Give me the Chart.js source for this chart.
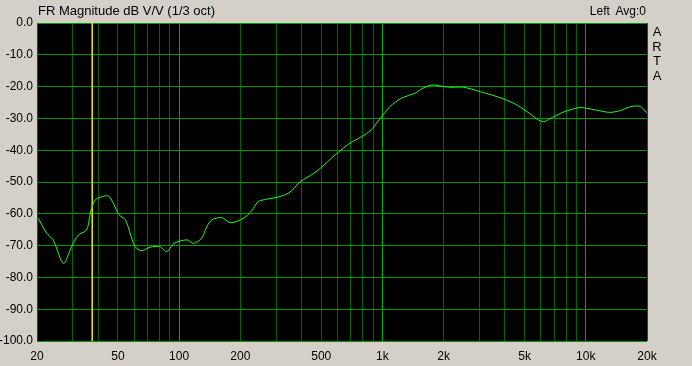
<!DOCTYPE html>
<html><head><meta charset="utf-8">
<script src="https://cdn.jsdelivr.net/npm/chart.js@4/dist/chart.umd.min.js"></script>
<style>
html,body{margin:0;padding:0;background:#D4D0C8;}
#wrap{position:relative;width:692px;height:366px;background:#D4D0C8;font-family:"Liberation Sans",Arial,sans-serif;}
canvas{position:absolute;left:0;top:0;}
.t{position:absolute;color:#000;white-space:nowrap;line-height:14px;}
#arta{position:absolute;left:651px;top:25px;width:12px;font-size:13px;line-height:14.5px;text-align:center;}
</style></head>
<body>
<div id="wrap">
<canvas id="c" width="692" height="366"></canvas>
<div class="t" style="left:38px;top:4px;font-size:13px;">FR Magnitude dB V/V (1/3 oct)</div>
<div class="t" style="right:46px;top:4px;font-size:12px;word-spacing:3px;">Left Avg:0</div>
<div id="arta">A<br>R<br>T<br>A</div>
</div>
<script>
const freqs = [20.3,22.3,24.0,27.0,29.6,31.9,34.7,35.6,36.9,38.6,40.9,44.9,47.5,50.5,54.4,57.4,60.7,65.3,72.0,80.4,87.0,94.4,109.5,117.5,129,137,145,162,178.7,200.6,215.8,231.8,245,269,303,347,395,459,495,585,691,788,882,935,1008,1087,1238,1465,1582,1745,1919,2150,2503,3030,3670,4440,5150,6110,6960,7830,9290,10050,11270,13100,14650,16600,18200,18800,19920];
const magDb = [-61.4,-66.1,-68.2,-75.6,-70.3,-66.7,-65.4,-64.0,-58.8,-55.7,-54.8,-54.4,-56.7,-60.2,-61.9,-66.1,-70.3,-71.6,-70.5,-70.3,-71.9,-69.3,-68.2,-69.3,-67.7,-64.0,-61.9,-61.2,-62.8,-61.9,-60.6,-58.3,-56.2,-55.4,-54.8,-53.4,-49.9,-47.3,-45.7,-41.5,-37.8,-35.8,-33.6,-31.5,-28.9,-26.3,-23.7,-21.9,-20.5,-19.5,-19.8,-20.2,-20.2,-21.6,-23.2,-25.3,-27.9,-31.0,-29.5,-27.9,-26.6,-26.8,-27.4,-28.1,-27.6,-26.3,-26.1,-26.5,-28.2];
const cursorFreq = [37.4, 37.4];
const cursorDb = [0, -100];
const xTickLabels = {20:'20',50:'50',100:'100',200:'200',500:'500',1000:'1k',2000:'2k',5000:'5k',10000:'10k',20000:'20k'};
const yTicks = [0,-10,-20,-30,-40,-50,-60,-70,-80,-90,-100];
const majorFreqs = [100,1000,10000];

const gridFreqs = [];
for (const d of [10,100,1000,10000]) for (let m=1;m<=9;m++){const f=m*d; if(f>=20&&f<=20000) gridFreqs.push(f);}

new Chart(document.getElementById('c'), {
  type:'line',
  data:{datasets:[
    {data:freqs.map((f,i)=>({x:f,y:magDb[i]})),borderColor:'#22FF22',borderWidth:1,pointRadius:0,tension:0.3,order:1},
    {data:cursorFreq.map((f,i)=>({x:f,y:cursorDb[i]})),borderColor:'#E8E800',borderWidth:1,pointRadius:0,order:2}
  ]},
  options:{
    responsive:false,animation:false,
    layout:{padding:{left:0,right:45,top:23,bottom:0}},
    plugins:{legend:{display:false},tooltip:{enabled:false}},
    scales:{
      x:{type:'logarithmic',min:20,max:20000,
        afterBuildTicks:s=>{s.ticks=gridFreqs.map(v=>({value:v}));},
        afterFit:s=>{s.height=25;},
        ticks:{autoSkip:false,maxRotation:0,color:'#000',font:{family:'Liberation Sans, Arial',size:12},padding:8,
          callback:v=>xTickLabels[v]||''},
        grid:{drawTicks:false,lineWidth:1,color:c=>{const v=c.tick&&c.tick.value;return majorFreqs.includes(v)?'#00B000':'#006800';}},
        border:{display:false}
      },
      y:{min:-100,max:0,
        afterBuildTicks:s=>{s.ticks=yTicks.map(v=>({value:v}));},
        afterFit:s=>{s.width=37;},
        ticks:{color:'#000',font:{family:'Liberation Sans, Arial',size:12},padding:4,callback:v=>v.toFixed(1)},
        grid:{drawTicks:false,color:'#009800',lineWidth:1},
        border:{display:false}
      }
    }
  },
  plugins:[{id:'bg',beforeDraw:ch=>{const a=ch.chartArea,x=ch.ctx;x.save();x.fillStyle='#000';x.fillRect(a.left,a.top,a.right-a.left,a.bottom-a.top);x.restore();}}]
});
</script>
</body></html>
